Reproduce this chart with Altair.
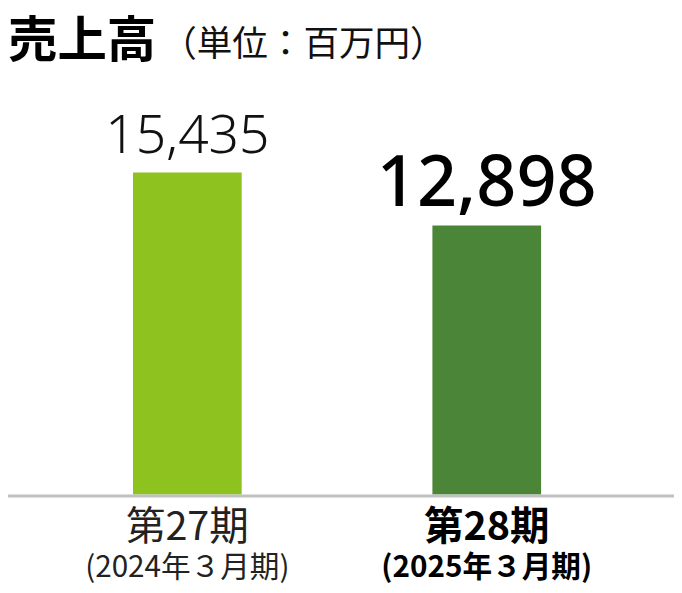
import altair as alt
import pandas as pd

# ---- data ----
periods = ["第27期", "第28期"]
fiscal = ["(2024年３月期)", "(2025年３月期)"]
sales = [15435, 12898]
value_labels = ["15,435", "12,898"]
bar_colors = ["#8dc21f", "#4a8538"]
title_text = "売上高"
unit_text = "（単位：百万円）"

df = pd.DataFrame({
    "period": periods,
    "fiscal": fiscal,
    "sales": sales,
    "label": value_labels,
    "color": bar_colors,
})

W, H = 606, 439
JP = "Noto Sans CJK JP"
NUM = "Noto Sans"

x = alt.X("period:N", axis=None, sort=periods,
          scale=alt.Scale(paddingInner=0, paddingOuter=0))
y = alt.Y("sales:Q", axis=None,
          scale=alt.Scale(domain=[0, 20785], nice=False, zero=True))

base = alt.Chart(df)

first = alt.datum.period == periods[0]
second = alt.datum.period == periods[1]

bars = base.mark_bar(size=110).encode(
    x=x, y=y, color=alt.Color("color:N", scale=None)
)

axis_line = base.transform_filter(first).mark_rule(
    color="#c0c0c0", strokeWidth=3
).encode(
    x=alt.value(-30), x2=alt.value(644), y=alt.value(H + 1.5)
)

val1 = base.transform_filter(first).mark_text(
    font=NUM, fontSize=54, fontWeight=300, baseline="alphabetic", dy=-20,
    color="#111111"
).encode(x=x, y=y, text="label:N")

val2 = base.transform_filter(second).mark_text(
    font=NUM, fontSize=71, fontWeight=500, baseline="alphabetic", dy=-20,
    color="#000000"
).encode(x=x, y=y, text="label:N")

cat1a = base.transform_filter(first).mark_text(
    font=JP, fontSize=40, baseline="alphabetic", color="#222222"
).encode(x=x, y=alt.value(485), text="period:N")
cat1b = base.transform_filter(first).mark_text(
    font=JP, fontSize=30, baseline="alphabetic", color="#222222"
).encode(x=x, y=alt.value(522), text="fiscal:N")

cat2a = base.transform_filter(second).mark_text(
    font=JP, fontSize=40, fontWeight="bold", baseline="alphabetic", color="#000000"
).encode(x=x, y=alt.value(485), text="period:N")
cat2b = base.transform_filter(second).mark_text(
    font=JP, fontSize=30, fontWeight="bold", baseline="alphabetic", color="#000000"
).encode(x=x, y=alt.value(522), text="fiscal:N")

title = base.transform_filter(first).mark_text(
    font=JP, fontSize=50, fontWeight="bold", align="left", baseline="alphabetic",
    color="#000000"
).encode(x=alt.value(-30), y=alt.value(-4), text=alt.value(title_text))

unit = base.transform_filter(first).mark_text(
    font=JP, fontSize=36, align="left", baseline="alphabetic", color="#111111"
).encode(x=alt.value(125), y=alt.value(-5), text=alt.value(unit_text))

chart = alt.layer(
    bars, axis_line, val1, val2, cat1a, cat1b, cat2a, cat2b, title, unit
).properties(
    width=W, height=H,
    autosize=alt.AutoSizeParams(type="none"),
    padding={"left": 30, "top": 50, "right": 38, "bottom": 88},
    background="white",
).configure_view(stroke=None)

chart.save("out.html", embed_options={"renderer": "svg", "actions": False})
